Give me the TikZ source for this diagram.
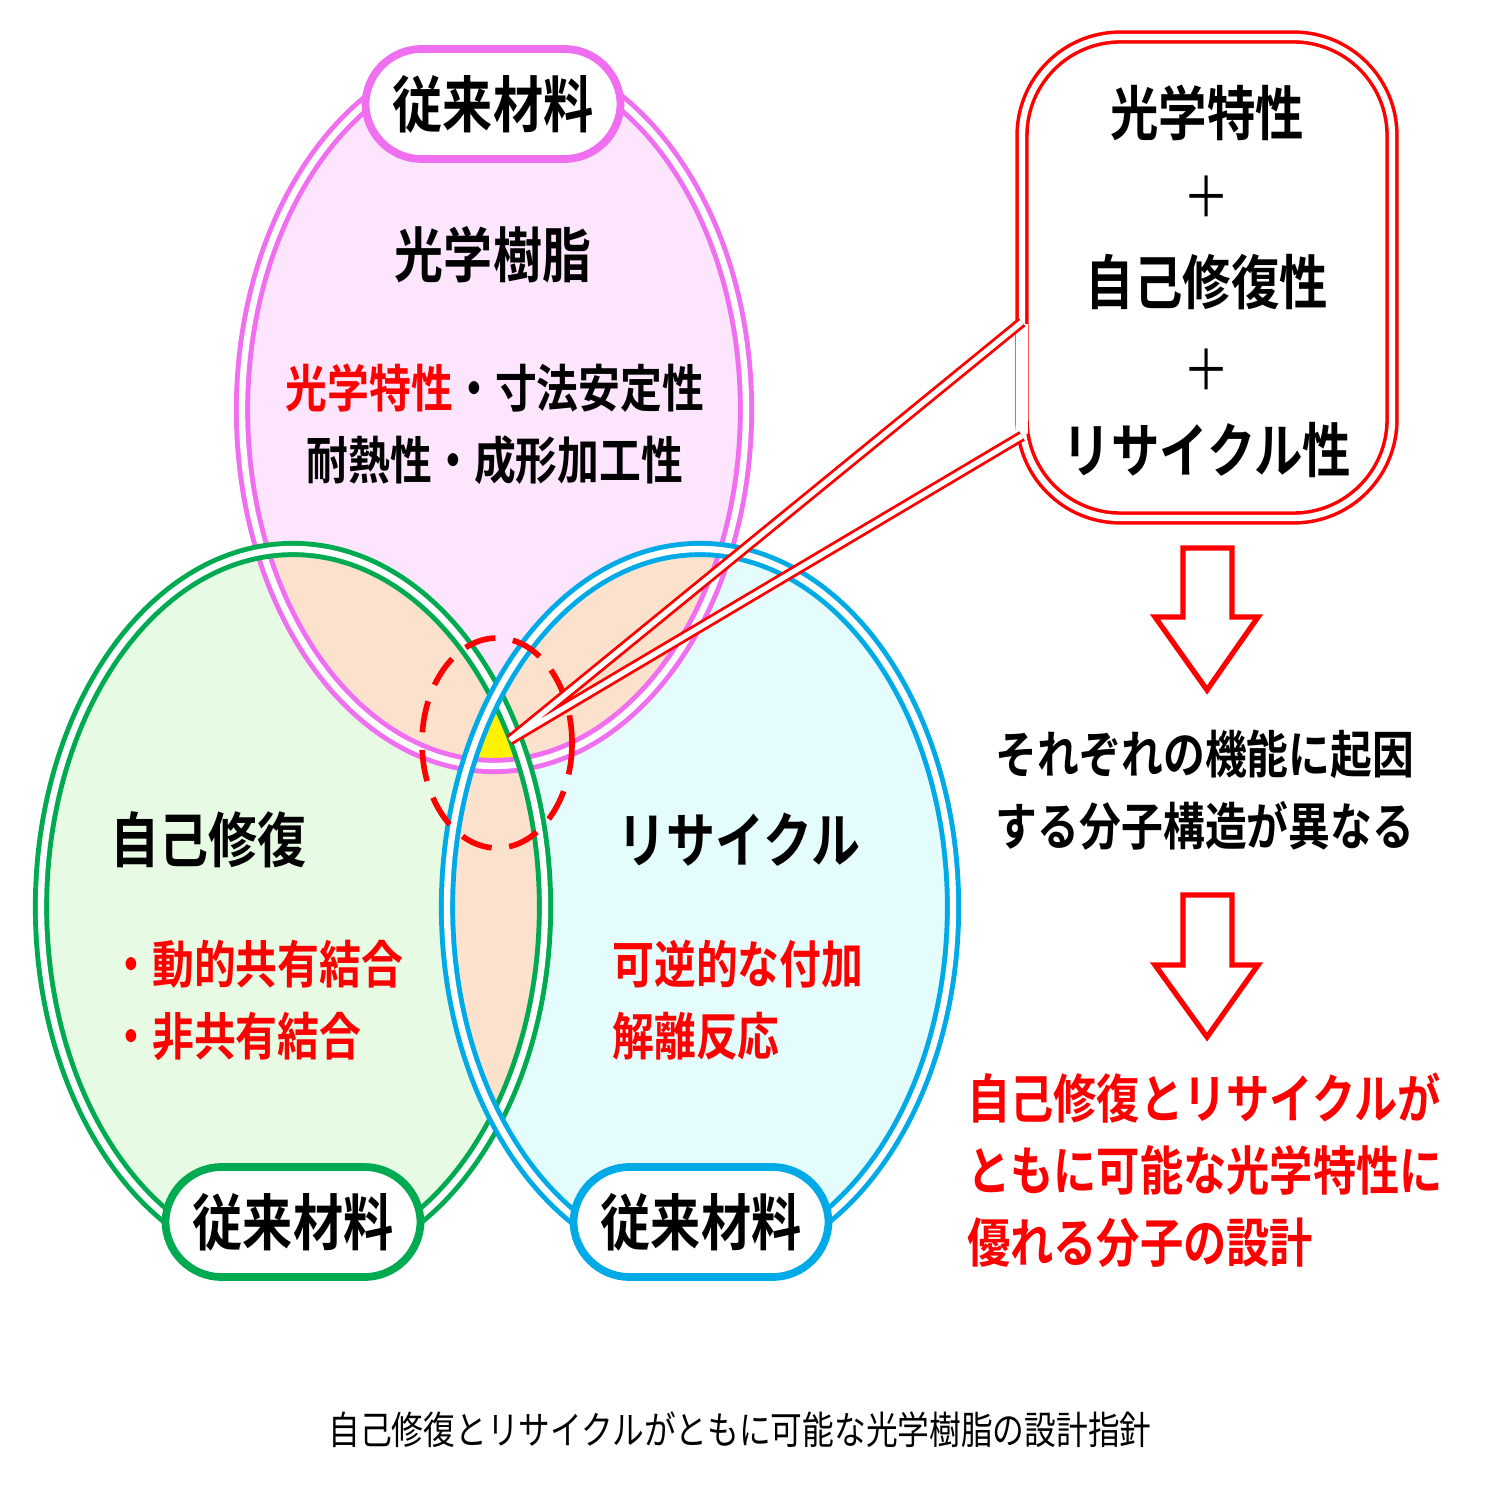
\documentclass[tikz,border=0pt]{standalone}
\usepackage{fontspec}
\setmainfont{Noto Sans CJK JP}[FakeStretch=0.82,BoldFont={* Bold},BoldFeatures={FakeStretch=0.82}]
\newfontfamily\capfont{Noto Sans CJK JP}[FakeStretch=0.82]
\usetikzlibrary{positioning}
\definecolor{pinkline}{RGB}{240,110,240}
\definecolor{pinkfill}{RGB}{253,230,253}
\definecolor{greenline}{RGB}{0,170,80}
\definecolor{greenfill}{RGB}{230,250,228}
\definecolor{blueline}{RGB}{0,170,230}
\definecolor{bluefill}{RGB}{228,252,252}
\definecolor{peach}{RGB}{252,226,204}
\newcommand{\fs}[2]{\fontsize{#1}{#2}\selectfont}
\tikzset{
  ring/.style={line width=1pt,double=white,double distance=1.8pt},
  tag/.style={rounded corners=16pt,fill=white,line width=2.2pt,minimum width=2.55cm,minimum height=1.1cm,inner sep=1pt,font=\bfseries\fs{17.4}{20}},
  big/.style={font=\bfseries\fs{17}{20}},
  mid/.style={font=\bfseries\fs{14.5}{20.5},align=left},
  hollow/.style={draw=red,line width=1.5pt,fill=white,line join=miter}
}
\begin{document}
\begin{tikzpicture}[x=0.01cm,y=-0.01cm]
\useasboundingbox (0,0) rectangle (1486,1486);
% fills
\fill[pinkfill] (494,410) ellipse (256 and 360);
\fill[greenfill] (293,907) ellipse (256 and 362);
\fill[bluefill] (700,907) ellipse (257 and 362);
\begin{scope}
\clip (494,410) ellipse (256 and 360);
\fill[peach] (293,907) ellipse (256 and 362);
\fill[peach] (700,907) ellipse (257 and 362);
\end{scope}
\begin{scope}
\clip (293,907) ellipse (256 and 362);
\fill[peach] (700,907) ellipse (257 and 362);
\clip (494,410) ellipse (256 and 360);
\fill[yellow] (700,907) ellipse (257 and 362);
\end{scope}
% outlines
\draw[ring,pinkline,line width=1.4pt] (494,410) ellipse (252 and 356);
\draw[ring,greenline,line width=1.4pt] (293,907) ellipse (252 and 358);
\draw[ring,blueline,line width=1.4pt] (700,907) ellipse (253 and 358);
\draw[red,line width=1.6pt,dash pattern=on 9pt off 5pt] (497,743) ellipse (75 and 105);

% tags
\node[tag,draw=pinkline] (top) at (493,104) {従来材料};
\node[tag,draw=greenline] (left) at (293,1222) {従来材料};
\node[tag,draw=blueline] (right) at (701,1222) {従来材料};

% texts in the ellipses
\node[big] (resin) at (493,255) {光学樹脂};
\node[mid] (prop1) at (495,388) {\textcolor{red}{光学特性}・寸法安定性};
\node[mid] (prop2) at (495,460) {耐熱性・成形加工性};
\node[big,anchor=west] (heal) at (98,840) {自己修復};
\node[mid,anchor=west,red] (bond) at (98,1000) {・動的共有結合\\・非共有結合};
\node[big,anchor=west] (recy) at (605,840) {リサイクル};
\node[mid,anchor=west,red] (react) at (600,1000) {可逆的な付加\\解離反応};

% callout box
\draw[red,ring,rounded corners=28pt] (1022,37) rectangle (1392,518);
\fill[white] (1016,324) rectangle (1028,434);
\coordinate (tip) at (510,740);
\coordinate (ca) at (1022,322);
\coordinate (cb) at (1022,436);
\draw[red,ring,line width=0.8pt,double distance=1.5pt] (ca) -- (tip) -- (cb);
\node[font=\bfseries\fs{16.8}{20}] (s1) at (1207,113) {光学特性};
\node[font=\fs{16}{20}] (p1) at (1207,197) {＋};
\node[font=\bfseries\fs{16.8}{20}] (s2) at (1207,282) {自己修復性};
\node[font=\fs{16}{20}] (p2) at (1207,370) {＋};
\node[font=\bfseries\fs{16.8}{20}] (s3) at (1207,450) {リサイクル性};

% arrows
\draw[hollow] (1183,548) -- (1232,548) -- (1232,617) -- (1258,617) -- (1207,690) -- (1155,617) -- (1183,617) -- cycle;
\draw[hollow] (1183,895) -- (1232,895) -- (1232,965) -- (1258,965) -- (1207,1037) -- (1155,965) -- (1183,965) -- cycle;
\node[mid,align=left] (cause) at (1205,790) {それぞれの機能に起因\\する分子構造が異なる};
\node[font=\bfseries\fs{15}{20.5},align=left,red] (goal) at (1205,1170) {自己修復とリサイクルが\\ともに可能な光学特性に\\優れる分子の設計};

\node[font=\capfont\fs{11}{13}] (cap) at (740,1430) {自己修復とリサイクルがともに可能な光学樹脂の設計指針};
\end{tikzpicture}
\end{document}
